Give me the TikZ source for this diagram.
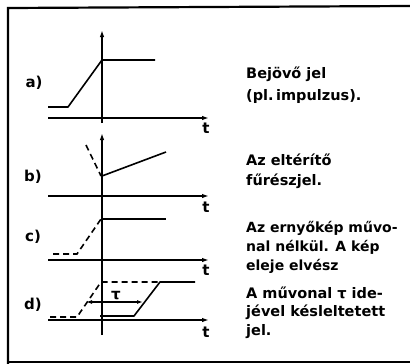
\documentclass[tikz,border=0pt]{standalone}
\usepackage{fontspec}
\setmainfont{DejaVu Sans}
\usetikzlibrary{arrows.meta}
\begin{document}
\begin{tikzpicture}[x=1pt,y=-1pt,
  sig/.style={line width=1.6pt},
  dsig/.style={line width=1.6pt,dash pattern=on 6pt off 4pt},
  ax/.style={line width=1.4pt,-{Latex[length=7pt,width=4.5pt]}},
  lbl/.style={font=\bfseries\fontsize{15}{16}\selectfont,inner sep=0},
  desc/.style={align=left,inner sep=0,anchor=base west},
  frame/.style={line width=2.2pt},
]
\useasboundingbox (0,0) rectangle (410,364);
\draw[frame] (410,6) -- (8,8) -- (8,364);
\draw[frame] (8,362) -- (410,362);
% axes
\coordinate (a0) at (48,118); \coordinate (a1) at (209,118);
\coordinate (b0) at (48,196); \coordinate (b1) at (209,196);
\coordinate (c0) at (48,260); \coordinate (c1) at (209,260);
\coordinate (d0) at (48,320); \coordinate (d1) at (209,320);
\coordinate (va0) at (102,123); \coordinate (va1) at (102,30);
\coordinate (vb0) at (102,335); \coordinate (vb1) at (102,133);
\draw[ax] (a0) -- (a1);
\draw[ax] (b0) -- (b1);
\draw[ax] (c0) -- (c1);
\draw[ax] (d0) -- (d1);
\draw[ax] (va0) -- (va1);
\draw[ax] (vb0) -- (vb1);
\node[lbl] (ta) at (206,128) {t};
\node[lbl] (tb) at (206,207) {t};
\node[lbl] (tc) at (206,270) {t};
\node[lbl] (td) at (206,332) {t};
\node[lbl] (la) at (34,83) {a)};
\node[lbl] (lb) at (33,177) {b)};
\node[lbl] (lc) at (33,237) {c)};
\node[lbl] (ld) at (33,305) {d)};
% a) signal
\draw[sig,line join=round] (48,107) -- (68,107) -- (102,60) -- (155,60);
% b) signal
\draw[dsig] (86,145) -- (101,176);
\draw[sig] (102,176) -- (166,152);
% c) signal
\draw[dsig] (53,254) -- (77,254) -- (101,219);
\draw[sig] (102,219) -- (166,219);
% d) signal
\draw[dsig] (50,317) -- (77,317) -- (101,282) -- (160,282);
\draw[sig,line join=round] (100,316) -- (134,316) -- (160,282) -- (195,282);
\coordinate (tl) at (86,302); \coordinate (tr) at (143,302);
\draw[line width=1.4pt,{Latex[length=6pt,width=4pt]}-{Latex[length=6pt,width=4pt]}] (tl) -- (tr);
\node[lbl] (tau) at (116,296) {τ};
% descriptions (base anchor = last line)
\node[desc,font=\bfseries\fontsize{14.5}{22}\selectfont] (da) at (246,100) {Bejövő jel\\(pl.\,impulzus).};
\node[desc,font=\bfseries\fontsize{14.5}{20}\selectfont] (db) at (246,185) {Az eltérítő\\fűrészjel.};
\node[desc,font=\bfseries\fontsize{14}{19}\selectfont] (dc) at (246,270) {Az ernyőkép művo-\\nal nélkül. A kép\\eleje elvész};
\node[desc,font=\bfseries\fontsize{14.5}{18.5}\selectfont] (dd) at (246,335) {A művonal τ ide-\\jével késleltetett\\jel.};
\end{tikzpicture}
\end{document}
